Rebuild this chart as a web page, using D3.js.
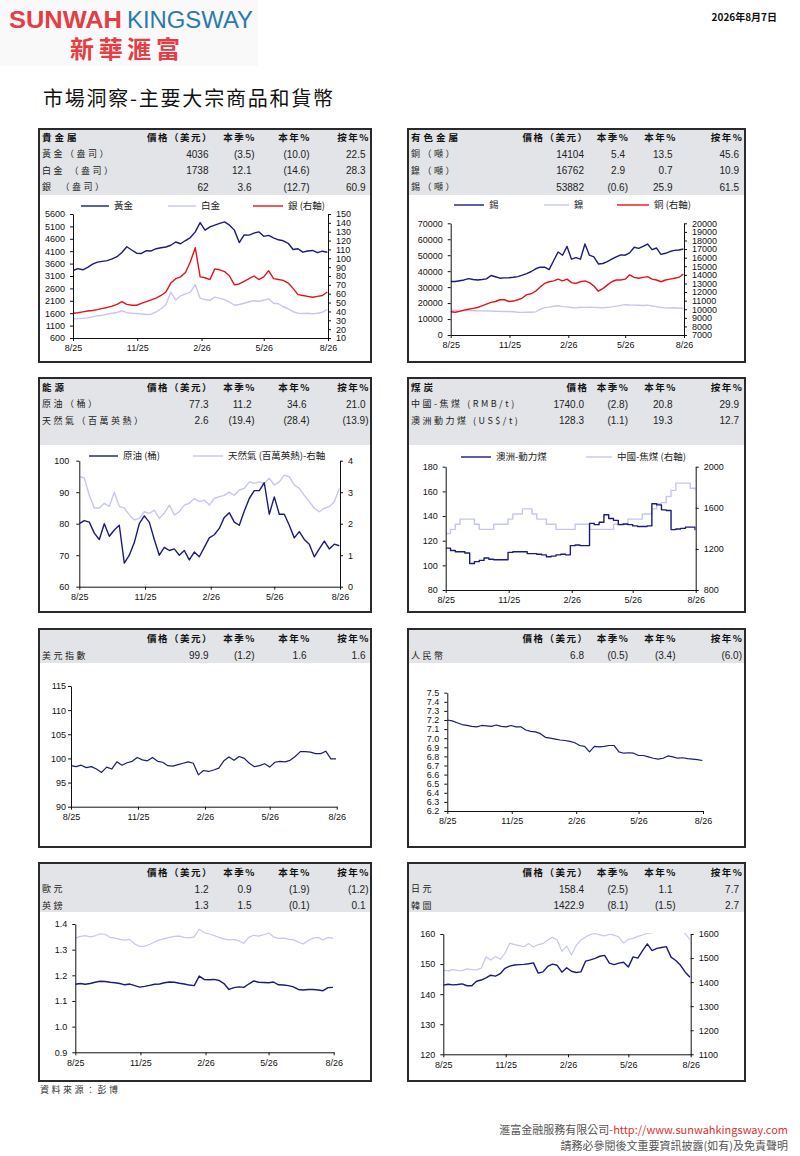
<!DOCTYPE html>
<html>
<head>
<meta charset="utf-8">
<script src="https://cdn.jsdelivr.net/npm/d3@7"></script>
<style>
  body { margin: 0; background: #fff; }
  svg { display: block; font-family: "Liberation Sans", Arial, "Noto Sans CJK TC", sans-serif; }
  .cjk { font-family: "Noto Sans CJK TC", "Liberation Sans", sans-serif; }
  .axis text { font-family: "Liberation Sans", Arial, sans-serif; font-size: 9px; fill: #111; }
  .axis path, .axis line { stroke: #111; }
</style>
</head>
<body>
<svg width="800" height="1156"></svg>
<script>
//////////// DATA ////////////

// table headings
var priceHeads = ["價格（美元）", "本季%", "本年%", "按年%"];
var coalHeads = ["價格", "本季%", "本年%", "按年%"];

// table rows: name, price, quarter %, year-to-date %, year-on-year %
var metalsRows = [
  ["黃金（盎司）", "4036", "(3.5)", "(10.0)", "22.5"],
  ["白金 （盎司）", "1738", "12.1", "(14.6)", "28.3"],
  ["銀　（盎司）", "62", "3.6", "(12.7)", "60.9"]
];
var baseRows = [
  ["銅（噸）", "14104", "5.4", "13.5", "45.6"],
  ["鎳（噸）", "16762", "2.9", "0.7", "10.9"],
  ["錫（噸）", "53882", "(0.6)", "25.9", "61.5"]
];
var energyRows = [
  ["原油（桶）", "77.3", "11.2", "34.6", "21.0"],
  ["天然氣（百萬英熱）", "2.6", "(19.4)", "(28.4)", "(13.9)"]
];
var coalRows = [
  ["中國-焦煤 (RMB/t)", "1740.0", "(2.8)", "20.8", "29.9"],
  ["澳洲動力煤 (US$/t)", "128.3", "(1.1)", "19.3", "12.7"]
];
var usdRows = [["美元指數", "99.9", "(1.2)", "1.6", "1.6"]];
var cnyRows = [["人民幣", "6.8", "(0.5)", "(3.4)", "(6.0)"]];
var eurRows = [
  ["歐元", "1.2", "0.9", "(1.9)", "(1.2)"],
  ["英鎊", "1.3", "1.5", "(0.1)", "0.1"]
];
var asiaRows = [
  ["日元", "158.4", "(2.5)", "1.1", "7.7"],
  ["韓圜", "1422.9", "(8.1)", "(1.5)", "2.7"]
];

// x axis tick dates (labelled m/yy)
var xTickDates = [new Date(2025, 7, 7), new Date(2025, 10, 7), new Date(2026, 1, 7), new Date(2026, 4, 7), new Date(2026, 7, 7)];

// weekly series (53 weeks from 7 Aug 2025)
var gold = [3320,3400,3350,3450,3580,3660,3690,3720,3790,3880,4050,4280,4150,4020,4010,4120,4110,4200,4240,4270,4340,4470,4400,4530,4650,4880,5250,4950,5080,5150,5220,5280,5150,4950,4450,4760,4750,4830,4880,4700,4740,4640,4560,4520,4420,4170,4200,4060,4110,4130,4040,4100,4060];
var platinum = [1360,1380,1390,1410,1450,1500,1520,1560,1600,1630,1700,1620,1600,1590,1570,1550,1560,1650,1780,1950,2450,2130,2300,2380,2450,2750,2200,2150,2120,2250,2200,2150,2050,1920,1950,2000,2060,2100,2080,2120,2180,2000,1980,1860,1780,1660,1600,1590,1600,1580,1600,1640,1740];
var silver = [38,38.5,39.5,40.5,41,42,43.5,44.5,46,48,51,48,47,47,49,51,53,55,58,62,72,77,79,84,96,112,79,78,76,88,87,85,80,70,71,74,77,80,76,79,86,77,76,75,72,66,59,58,57,56,57,58,62];

var tin = [33500,33500,34000,34500,35300,34800,34500,34800,35200,37300,36500,35600,35800,35900,36200,36600,37500,38500,39800,41500,42500,42500,41000,46500,52000,50000,55500,47500,48500,47500,57000,50000,49000,44500,44800,46000,47500,49000,50200,50000,51500,55000,54300,55500,57000,53500,54500,50500,51200,52300,53000,53300,53900];
var nickel = [15500,15600,15400,15500,15300,15200,15200,15100,15000,15000,14900,14800,14700,14700,14600,14300,14200,14300,14300,14500,16000,17200,17500,18000,18300,17800,17600,17200,17000,17400,17300,17500,17300,17200,17000,17300,17600,18100,18600,19000,18800,18700,18600,18500,18700,18200,17800,17200,17000,16900,17100,16800,16762];
var copper = [9700,9650,9750,9900,10000,10100,10200,10400,10600,10800,10900,11100,11100,10900,10950,11100,11300,11700,11800,12100,12600,13000,13200,13300,13500,13300,13500,13100,13000,13200,13300,13100,12700,12100,12400,12800,13200,13400,13400,13500,14000,13700,13600,13700,13800,13500,13400,13200,13400,13500,13600,13700,14100];

var crude = [80,81,80.5,77,75,80,76,78,79.5,67.5,70,74,80,82.5,80.5,75,70,72.5,71.5,72,70,71.5,68.5,71,69.5,72.5,75.5,76.5,78.5,82,83.5,80.5,79.5,84,88,90.5,90.5,93,83,88.5,83,83,79.5,75.5,77.5,75,73.5,69.5,72,74.5,72,73.5,73];
var natGas = [3.5,3.45,2.9,2.5,2.5,2.65,2.55,3.0,2.55,2.5,2.28,2.12,2.17,2.38,2.33,2.43,2.17,2.33,2.59,2.28,2.38,2.59,2.65,2.8,2.7,2.75,2.59,2.8,2.86,2.9,3.0,2.9,3.07,3.12,3.33,3.28,3.33,3.28,3.44,3.23,3.33,3.54,3.49,3.23,3.12,2.9,2.7,2.49,2.38,2.49,2.54,2.7,3.12];

var ausCoal = [114,112,111,111,110,101.5,103,104,106,105,104.5,104.5,104.5,110.5,111,111,111,109.5,109.5,109,108.5,107,107.5,108.5,109,108.5,116,116.5,116,116,134,133,135,141,138,136.5,133,133.5,133,132,131.5,131.5,132,150,149,145,144.5,129,129.5,130,131,131,128.5];
var chinaCoal = [1350,1390,1440,1490,1490,1490,1440,1390,1390,1390,1440,1440,1440,1490,1540,1540,1590,1590,1540,1490,1490,1440,1440,1390,1390,1390,1390,1440,1440,1440,1390,1390,1390,1390,1390,1440,1440,1440,1490,1490,1490,1540,1540,1590,1640,1650,1710,1770,1840,1840,1840,1790,1770];

var dollarIndex = [98.5,98.3,98.6,98.1,98.3,97.8,97.1,98.2,97.8,99.3,98.6,99.1,99.4,100.2,99.7,99.5,100.2,99.4,99.2,98.5,98.4,98.7,99.0,99.3,99.0,96.6,97.5,97.3,97.6,98.0,99.5,100.3,99.6,100.4,100.0,99.0,98.3,98.5,98.9,98.2,99.2,99.4,99.3,99.6,100.4,101.4,101.4,101.3,101.0,101.0,101.5,99.9,99.9];
var yuan = [7.20,7.19,7.17,7.15,7.14,7.13,7.125,7.14,7.135,7.13,7.145,7.13,7.125,7.14,7.125,7.125,7.09,7.075,7.07,7.05,7.01,7.0,6.99,6.98,6.975,6.965,6.95,6.92,6.91,6.85,6.91,6.905,6.91,6.92,6.92,6.85,6.835,6.84,6.835,6.81,6.81,6.795,6.78,6.77,6.78,6.805,6.795,6.78,6.785,6.775,6.77,6.765,6.755];

var euro = [1.165,1.168,1.165,1.168,1.173,1.177,1.176,1.173,1.171,1.168,1.163,1.166,1.160,1.154,1.157,1.161,1.165,1.166,1.171,1.174,1.173,1.169,1.166,1.162,1.160,1.197,1.184,1.183,1.184,1.180,1.168,1.145,1.152,1.155,1.153,1.166,1.178,1.173,1.172,1.171,1.174,1.163,1.162,1.160,1.155,1.145,1.143,1.145,1.145,1.143,1.140,1.152,1.153];
var pound = [1.345,1.352,1.355,1.350,1.354,1.362,1.360,1.348,1.345,1.340,1.337,1.340,1.322,1.312,1.314,1.320,1.330,1.338,1.343,1.348,1.352,1.353,1.348,1.346,1.350,1.380,1.366,1.361,1.355,1.348,1.342,1.338,1.340,1.334,1.325,1.348,1.356,1.353,1.358,1.365,1.350,1.344,1.345,1.341,1.338,1.330,1.322,1.336,1.345,1.348,1.338,1.348,1.344];

var yen = [143,143.3,143.1,143.2,143.4,142.8,142.8,144.3,144.7,145.4,146.3,146.0,146.8,148.6,149.3,149.7,149.8,149.9,150.1,150.4,147.0,147.4,149.2,150.0,149.6,147.3,148.8,147.6,147.2,147.4,151.0,151.4,151.9,152.6,152.9,150.3,149.8,150.3,150.6,149.0,152.4,152.0,154.5,156.7,154.5,155.2,155.5,155.8,152.3,151.2,149.6,147.3,145.6];
var won = [1450,1447,1452,1449,1448,1455,1452,1451,1458,1505,1492,1506,1495,1520,1562,1556,1552,1547,1560,1546,1556,1560,1575,1586,1575,1528,1550,1513,1552,1575,1588,1598,1602,1596,1592,1599,1595,1588,1562,1578,1582,1590,1596,1603,1605,1620,1635,1640,1630,1625,1615,1602,1575];

//////////// SETUP ////////////

var svg = d3.select("svg");
var startDate = new Date(2025, 7, 7),
    endDate = new Date(2026, 7, 7);
var weeks = d3.range(53).map(function(i) { return d3.timeDay.offset(startDate, i * 7); });

var navy = "#1b1b7e", lilac = "#c6c6f0", red = "#e5121b";
var clipCount = 0;

//////////// HEADER ////////////

svg.append("rect").attr("x", 0).attr("y", 0).attr("width", 258).attr("height", 66).attr("fill", "#f9f9f9");
svg.append("text").attr("x", 9).attr("y", 28).attr("font-size", 23).attr("font-weight", "bold")
    .attr("fill", "#e43d45").attr("textLength", 113).attr("lengthAdjust", "spacingAndGlyphs").text("SUNWAH");
svg.append("text").attr("x", 127).attr("y", 28).attr("font-size", 23)
    .attr("fill", "#2d79ae").attr("textLength", 126).attr("lengthAdjust", "spacingAndGlyphs").text("KINGSWAY");
svg.append("text").attr("class", "cjk").attr("x", 70).attr("y", 58).attr("font-size", 24).attr("font-weight", "bold")
    .attr("fill", "#e43d45").attr("textLength", 110).text("新華滙富");
svg.append("text").attr("class", "cjk").attr("x", 777).attr("y", 21).attr("font-size", 10).attr("font-weight", "bold")
    .attr("text-anchor", "end").attr("fill", "#111").text("2026年8月7日");
svg.append("text").attr("class", "cjk").attr("x", 43).attr("y", 106).attr("font-size", 20)
    .attr("fill", "#111").attr("textLength", 290).text("市場洞察-主要大宗商品和貨幣");

//////////// PANELS ////////////

function drawTable(p) {
  var g = svg.append("g");
  g.append("rect")
      .attr("x", p.box[0]).attr("y", p.box[1])
      .attr("width", p.box[2] - p.box[0]).attr("height", p.grayTo - p.box[1])
      .attr("fill", "#e2e4e7");

  // header line
  g.append("text").attr("class", "cjk")
      .attr("x", p.box[0] + 3).attr("y", p.headY).attr("dy", "0.35em")
      .attr("font-size", 9.5).attr("font-weight", "bold").style("letter-spacing", "3px")
      .attr("fill", "#111").text(p.title);
  p.heads.forEach(function(h, i) {
    g.append("text").attr("class", "cjk")
        .attr("x", p.cols[i] + 1.5).attr("y", p.headY).attr("dy", "0.35em")
        .attr("text-anchor", "end").attr("font-size", 9.5).attr("font-weight", "bold")
        .style("letter-spacing", "1.5px").attr("fill", "#111").text(h);
  });

  // data rows
  p.rows.forEach(function(r, j) {
    var y = p.rowY[j];
    g.append("text").attr("class", "cjk")
        .attr("x", p.box[0] + 3).attr("y", y).attr("dy", "0.35em")
        .attr("font-size", 9).style("letter-spacing", "2.5px").attr("fill", "#222").text(r[0]);
    r.slice(1).forEach(function(v, i) {
      var neg = v.charAt(0) === "(";
      g.append("text")
          .attr("x", p.cols[i] - (neg ? 0 : 3)).attr("y", y).attr("dy", "0.35em")
          .attr("text-anchor", "end").attr("font-size", 10).attr("fill", "#222").text(v);
    });
  });
}

function drawChart(c) {
  var g = svg.append("g");
  var x = d3.scaleTime().domain([startDate, endDate]).range([c.xL, c.xR]);
  var yL = d3.scaleLinear().domain(c.left.domain).range([c.yB, c.yT]);
  var yR = c.right ? d3.scaleLinear().domain(c.right.domain).range([c.yB, c.yT]) : null;

  var id = "clip" + (clipCount++);
  g.append("clipPath").attr("id", id).append("rect")
      .attr("x", c.xL).attr("y", c.yT - 1).attr("width", c.xR - c.xL).attr("height", c.yB - c.yT + 1);

  c.series.forEach(function(s) {
    var y = s.axis === "R" ? yR : yL;
    var line = d3.line()
        .x(function(d, i) { return x(weeks[i]); })
        .y(function(d) { return y(d); })
        .curve(s.step ? d3.curveStepAfter : d3.curveLinear);
    g.append("path").datum(s.values)
        .attr("clip-path", "url(#" + id + ")")
        .attr("fill", "none").attr("stroke", s.color).attr("stroke-width", s.width || 1.4)
        .attr("stroke-linejoin", "round").attr("d", line);
  });

  // axes
  g.append("g").attr("class", "axis").attr("transform", "translate(" + c.xL + ",0)")
      .call(d3.axisLeft(yL).tickValues(c.left.ticks).tickFormat(c.left.fmt || d3.format("d"))
          .tickSize(3).tickSizeOuter(0).tickPadding(c.left.pad || 5));
  if (yR) {
    g.append("g").attr("class", "axis").attr("transform", "translate(" + c.xR + ",0)")
        .call(d3.axisRight(yR).tickValues(c.right.ticks).tickFormat(c.right.fmt || d3.format("d"))
            .tickSize(3).tickSizeOuter(0).tickPadding(5));
  }
  g.append("g").attr("class", "axis").attr("transform", "translate(0," + c.yB + ")")
      .call(d3.axisBottom(x).tickValues(xTickDates).tickFormat(d3.timeFormat("%-m/%y"))
          .tickSize(3).tickSizeOuter(0).tickPadding(4));

  // legend
  (c.legend || []).forEach(function(l) {
    g.append("line").attr("x1", l.x1).attr("x2", l.x2).attr("y1", c.legendY).attr("y2", c.legendY)
        .attr("stroke", l.color).attr("stroke-width", 1.4);
    g.append("text").attr("class", "cjk").attr("x", l.x2 + 5).attr("y", c.legendY).attr("dy", "0.35em")
        .attr("font-size", 9.5).attr("fill", "#222").text(l.label);
  });
}

function drawFrame(box) {
  svg.append("rect")
      .attr("x", box[0]).attr("y", box[1])
      .attr("width", box[2] - box[0]).attr("height", box[3] - box[1])
      .attr("fill", "none").attr("stroke", "#2a2a2a").attr("stroke-width", 2);
}

var leftCols = [211.5, 254.5, 309.5, 368.5];
var rightCols = [587, 628, 675.5, 742];
var boxL1 = [39, 129, 371, 362], boxR1 = [408, 129, 745, 362];
var boxL2 = [39, 378, 371, 612], boxR2 = [408, 378, 745, 612];
var boxL3 = [39, 629, 371, 847], boxR3 = [408, 629, 745, 847];
var boxL4 = [39, 863, 371, 1081], boxR4 = [408, 863, 745, 1081];

// precious metals
drawTable({ box: boxL1, grayTo: 195, title: "貴金屬", heads: priceHeads, rows: metalsRows,
  cols: leftCols, headY: 137.5, rowY: [154.3, 170.7, 187.3] });
drawChart({ xL: 73, xR: 328, yT: 214, yB: 338,
  left: { domain: [600, 5600], ticks: d3.range(600, 5601, 500) },
  right: { domain: [10, 150], ticks: d3.range(10, 151, 10) },
  series: [
    { values: platinum, color: lilac },
    { values: silver, color: red, axis: "R" },
    { values: gold, color: navy }
  ],
  legendY: 206,
  legend: [
    { x1: 81, x2: 109, color: navy, label: "黃金" },
    { x1: 168, x2: 196, color: lilac, label: "白金" },
    { x1: 253, x2: 283, color: red, label: "銀 (右軸)" }
  ] });

// base metals
drawTable({ box: boxR1, grayTo: 195, title: "有色金屬", heads: priceHeads, rows: baseRows,
  cols: rightCols, headY: 137.5, rowY: [154.3, 170.7, 187.3] });
drawChart({ xL: 450.7, xR: 684, yT: 223.3, yB: 335,
  left: { domain: [0, 70000], ticks: d3.range(0, 70001, 10000) },
  right: { domain: [7000, 20000], ticks: d3.range(7000, 20001, 1000) },
  series: [
    { values: nickel, color: lilac },
    { values: copper, color: red, axis: "R" },
    { values: tin, color: navy }
  ],
  legendY: 205,
  legend: [
    { x1: 454, x2: 484, color: navy, label: "錫" },
    { x1: 544, x2: 569, color: lilac, label: "鎳" },
    { x1: 617, x2: 649, color: red, label: "銅 (右軸)" }
  ] });

// energy
drawTable({ box: boxL2, grayTo: 445, title: "能源", heads: priceHeads, rows: energyRows,
  cols: leftCols, headY: 387.3, rowY: [404.3, 420.7] });
drawChart({ xL: 79.3, xR: 340, yT: 460.7, yB: 586.7,
  left: { domain: [60, 100], ticks: d3.range(60, 101, 10), pad: 7 },
  right: { domain: [0, 4], ticks: d3.range(0, 5, 1) },
  series: [
    { values: natGas, color: lilac, axis: "R" },
    { values: crude, color: navy }
  ],
  legendY: 456,
  legend: [
    { x1: 89, x2: 118, color: navy, label: "原油 (桶)" },
    { x1: 193, x2: 223, color: lilac, label: "天然氣 (百萬英熱)-右軸" }
  ] });

// coal
drawTable({ box: boxR2, grayTo: 445, title: "煤炭", heads: coalHeads, rows: coalRows,
  cols: rightCols, headY: 387.3, rowY: [404.3, 420.7] });
drawChart({ xL: 445.7, xR: 695.7, yT: 466.7, yB: 590,
  left: { domain: [80, 180], ticks: d3.range(80, 181, 20) },
  right: { domain: [800, 2000], ticks: d3.range(800, 2001, 400) },
  series: [
    { values: chinaCoal, color: lilac, axis: "R", step: true },
    { values: ausCoal, color: navy, step: true }
  ],
  legendY: 457,
  legend: [
    { x1: 461, x2: 491, color: navy, label: "澳洲-動力煤" },
    { x1: 586, x2: 612, color: lilac, label: "中國-焦煤 (右軸)" }
  ] });

// US dollar index
drawTable({ box: boxL3, grayTo: 663, title: "", heads: priceHeads, rows: usdRows,
  cols: leftCols, headY: 638.3, rowY: [655.7] });
drawChart({ xL: 71, xR: 336.7, yT: 686, yB: 806.7,
  left: { domain: [90, 115], ticks: d3.range(90, 116, 5), pad: 2 },
  series: [{ values: dollarIndex, color: navy, width: 1.2 }] });

// renminbi
drawTable({ box: boxR3, grayTo: 663, title: "", heads: priceHeads, rows: cnyRows,
  cols: rightCols, headY: 638.3, rowY: [655.7] });
drawChart({ xL: 447.3, xR: 703, yT: 692.7, yB: 811,
  left: { domain: [6.2, 7.5], ticks: d3.range(62, 76, 1).map(function(d) { return d / 10; }), fmt: d3.format(".1f") },
  series: [{ values: yuan, color: navy, width: 1.2 }] });

// euro and pound
drawTable({ box: boxL4, grayTo: 912, title: "", heads: priceHeads, rows: eurRows,
  cols: leftCols, headY: 872.3, rowY: [889.3, 905.7] });
drawChart({ xL: 75.3, xR: 333.7, yT: 924, yB: 1052.3,
  left: { domain: [0.9, 1.4], ticks: d3.range(9, 15, 1).map(function(d) { return d / 10; }), fmt: d3.format(".1f") },
  series: [
    { values: pound, color: lilac, width: 1.2 },
    { values: euro, color: navy, width: 1.4 }
  ] });

// yen and won
drawTable({ box: boxR4, grayTo: 912, title: "", heads: priceHeads, rows: asiaRows,
  cols: rightCols, headY: 872.3, rowY: [889.3, 905.7] });
drawChart({ xL: 443.3, xR: 690.7, yT: 934, yB: 1054.3,
  left: { domain: [120, 160], ticks: d3.range(120, 161, 10) },
  right: { domain: [1100, 1600], ticks: d3.range(1100, 1601, 100) },
  series: [
    { values: won, color: lilac, axis: "R", width: 1.2 },
    { values: yen, color: navy, width: 1.4 }
  ] });

[boxL1, boxR1, boxL2, boxR2, boxL3, boxR3, boxL4, boxR4].forEach(drawFrame);

//////////// FOOTER ////////////

svg.append("text").attr("class", "cjk").attr("x", 40).attr("y", 1093)
    .attr("font-size", 9).style("letter-spacing", "2.5px").attr("fill", "#333").text("資料來源：彭博");

var foot = svg.append("text").attr("class", "cjk").attr("x", 788).attr("y", 1134)
    .attr("text-anchor", "end").attr("font-size", 11);
foot.append("tspan").attr("fill", "#555").text("滙富金融服務有限公司");
foot.append("tspan").attr("fill", "#e0312f").text("-http://www.sunwahkingsway.com");
svg.append("text").attr("class", "cjk").attr("x", 788).attr("y", 1150)
    .attr("text-anchor", "end").attr("font-size", 11).attr("fill", "#555")
    .text("請務必參閱後文重要資訊披露(如有)及免責聲明");
</script>
</body>
</html>
